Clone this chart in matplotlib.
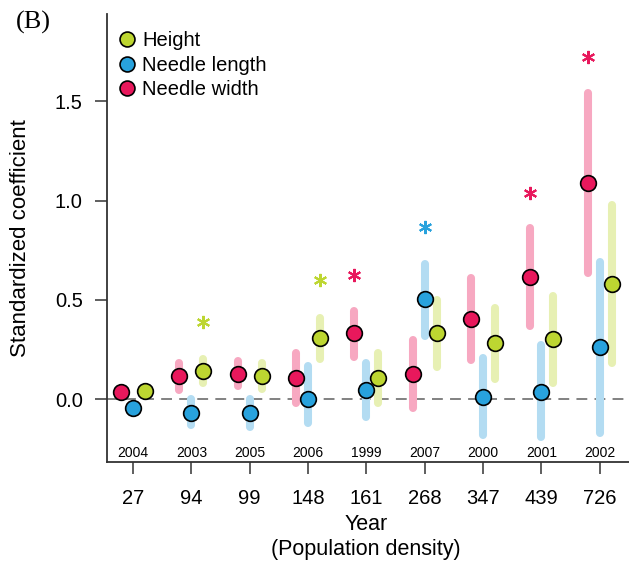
import numpy as np
import matplotlib.pyplot as plt

plt.rcParams['font.family'] = ['Liberation Sans', 'DejaVu Sans']

# data
years = ['2004', '2003', '2005', '2006', '1999', '2007', '2000', '2001', '2002']
density = ['27', '94', '99', '148', '161', '268', '347', '439', '726']

height_est = [0.042, 0.143, 0.116, 0.306, 0.107, 0.331, 0.280, 0.302, 0.579]
height_lo = [np.nan, 0.08, 0.05, 0.20, -0.02, 0.16, 0.10, 0.08, 0.18]
height_hi = [np.nan, 0.20, 0.18, 0.41, 0.23, 0.50, 0.46, 0.52, 0.98]

length_est = [-0.044, -0.071, -0.071, 0.0, 0.045, 0.504, 0.008, 0.037, 0.260]
length_lo = [np.nan, -0.13, -0.14, -0.12, -0.09, 0.32, -0.18, -0.19, -0.17]
length_hi = [np.nan, 0.0, 0.0, 0.165, 0.18, 0.68, 0.205, 0.27, 0.69]

width_est = [0.034, 0.114, 0.126, 0.106, 0.331, 0.128, 0.401, 0.616, 1.090]
width_lo = [np.nan, 0.045, 0.065, -0.02, 0.21, -0.045, 0.195, 0.37, 0.635]
width_hi = [np.nan, 0.18, 0.19, 0.23, 0.445, 0.30, 0.61, 0.86, 1.54]

# significance stars: (group index, y)
height_stars = [(1, 0.386), (3, 0.60)]
length_stars = [(5, 0.868)]
width_stars = [(4, 0.625), (7, 1.04), (8, 1.725)]

series = [
    # label, est, lo, hi, stars, offset, dot colour, bar colour
    ('Needle width', width_est, width_lo, width_hi, width_stars, -0.205, '#E8185C', '#F7A8C1'),
    ('Needle length', length_est, length_lo, length_hi, length_stars, 0.0, '#28A2DD', '#B3DCF2'),
    ('Height', height_est, height_lo, height_hi, height_stars, 0.205, '#BDD631', '#E7F0B3'),
]

fig = plt.figure(figsize=(6.29, 5.66), dpi=100)
ax = fig.add_axes([107 / 629, 1 - 462 / 566, 1 - 107 / 629, (462 - 14) / 566])

x = np.arange(len(years))
ax.axhline(0, color='#777777', lw=1.3, dashes=(6, 4), zorder=1)

handles = {}
for label, est, lo, hi, stars, off, dc, bc in series:
    xs = x + off
    ax.vlines(xs, lo, hi, colors=bc, lw=5.8, capstyle='round', zorder=2)
for label, est, lo, hi, stars, off, dc, bc in series:
    xs = x + off
    h, = ax.plot(xs, est, 'o', ms=11.3, mfc=dc, mec='black', mew=1.2,
                 ls='none', zorder=3, label=label)
    handles[label] = h
    for i, yv in stars:
        ax.plot(x[i] + off, yv, marker=(6, 2, 0), ms=9.5, mew=1.5,
                color=dc, ls='none', zorder=3)

for i, yr in enumerate(years):
    ax.text(x[i], -0.272, yr, ha='center', va='center', fontsize=10)

ax.set_xlim(-0.445, 8.5)
ax.set_ylim(-0.317, 1.94)
ax.set_xticks(x)
ax.set_xticklabels(density)
ax.set_yticks([0.0, 0.5, 1.0, 1.5])
ax.set_yticklabels(['0.0', '0.5', '1.0', '1.5'])
ax.tick_params(axis='both', direction='out', length=8.5, width=1.1,
               color='#333333', labelsize=14.5)
ax.tick_params(axis='y', pad=9)
ax.tick_params(axis='x', pad=11)
for s in ['top', 'right']:
    ax.spines[s].set_visible(False)
for s in ['left', 'bottom']:
    ax.spines[s].set_color('#333333')
    ax.spines[s].set_linewidth(1.3)

ax.legend([handles['Height'], handles['Needle length'], handles['Needle width']],
          ['Height', 'Needle length', 'Needle width'],
          loc='upper left', bbox_to_anchor=(107 / 629, 1 - 23 / 566),
          bbox_transform=fig.transFigure, frameon=False, fontsize=14.5,
          handletextpad=0.15, labelspacing=0.28, borderaxespad=0,
          handlelength=1.2, markerscale=0.95)

fig.text(366 / 629, 1 - 524 / 566, 'Year', ha='center', va='center', fontsize=15.5)
fig.text(366 / 629, 1 - 550 / 566, '(Population density)', ha='center', va='center', fontsize=15.5)
fig.text(21 / 629, 1 - 238 / 566, 'Standardized coefficient', ha='center', va='center',
         rotation=90, fontsize=16)
fig.text(33 / 629, 1 - 22 / 566, '(B)', ha='center', va='center', fontsize=19,
         family='Liberation Serif')

fig.savefig('out.png', dpi=100)
